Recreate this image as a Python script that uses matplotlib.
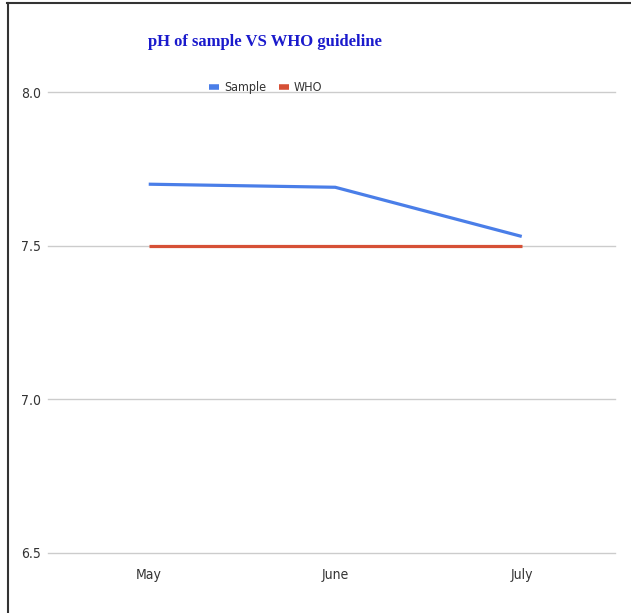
import matplotlib.pyplot as plt
from matplotlib.lines import Line2D

months = ["May", "June", "July"]
sample_ph = [7.70, 7.69, 7.53]
who_ph = [7.5, 7.5, 7.5]
y_ticks = [6.5, 7.0, 7.5, 8.0]

fig = plt.figure(figsize=(6.31, 6.13), dpi=100)
ax = fig.add_axes([48 / 631, 60 / 613, 567 / 631, 461 / 613])

x = range(len(months))
ax.plot(x, sample_ph, color="#4a7ee8", linewidth=2.3, label="Sample", solid_capstyle="butt")
ax.plot(x, who_ph, color="#d65036", linewidth=2.3, label="WHO", solid_capstyle="butt")

ax.set_xlim(-0.54, 2.5)
ax.set_ylim(6.5, 8.0)
ax.set_yticks(y_ticks)
ax.set_yticklabels([f"{v:.1f}" for v in y_ticks])
ax.set_xticks(list(x))
ax.set_xticklabels(months)
ax.tick_params(length=0, labelsize=10, colors="#333333")
ax.tick_params(axis="x", pad=11)
ax.tick_params(axis="y", pad=5)
for lbl in ax.get_xticklabels() + ax.get_yticklabels():
    lbl.set_fontfamily("DejaVu Sans")
    lbl.set_fontstretch("condensed")
ax.grid(axis="y", color="#cccccc", linewidth=1)
for gl in ax.get_ygridlines():
    gl.set_clip_on(False)
ax.set_axisbelow(True)
for s in ax.spines.values():
    s.set_visible(False)

leg = ax.legend(loc="center", bbox_to_anchor=(0.384, 1.01), ncol=2, frameon=False,
                handlelength=0.8, handletextpad=0.4, columnspacing=1.0,
                prop={"family": "DejaVu Sans", "stretch": "condensed", "size": 9},
                labelcolor="#333333")
for h in leg.get_lines():
    h.set_linewidth(4)

fig.text(265 / 631, 1 - 42 / 613, "pH of sample VS WHO guideline", ha="center", va="center",
         fontsize=12, fontweight="bold", family="Liberation Serif", color="#1a1acc")

# frame around the screenshot
fig.add_artist(Line2D([7 / 631, 1], [1 - 2.5 / 613, 1 - 2.5 / 613], color="#333333", linewidth=1.5))
fig.add_artist(Line2D([7.5 / 631, 7.5 / 631], [0, 1 - 2.5 / 613], color="#333333", linewidth=1.5))

fig.savefig("out.png", dpi=100)
